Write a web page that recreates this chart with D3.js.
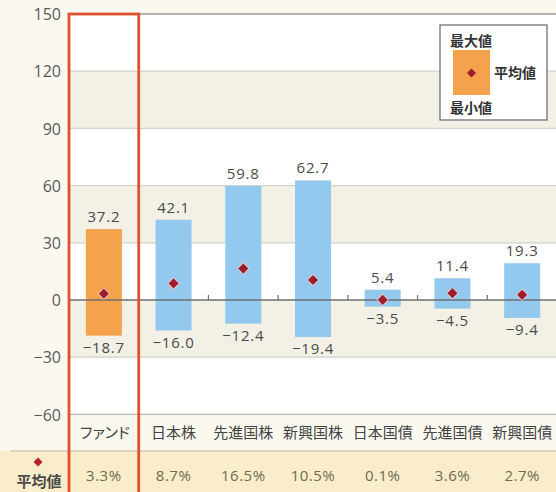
<!DOCTYPE html>
<html><head><meta charset="utf-8">
<script src="https://cdn.jsdelivr.net/npm/d3@7"></script>
<style>
html,body{margin:0;padding:0;background:#fbf8f0;}
svg{display:block;}
text{font-family:"Open Sans","Noto Sans CJK JP",sans-serif;}
.jp{font-family:"Noto Sans CJK JP",sans-serif;}
</style></head>
<body>
<svg id="c" width="556" height="492"></svg>
<script>
const categories = ["ファンド","日本株","先進国株","新興国株","日本国債","先進国債","新興国債"];
const maxValues = [37.2, 42.1, 59.8, 62.7, 5.4, 11.4, 19.3];
const minValues = [-18.7, -16.0, -12.4, -19.4, -3.5, -4.5, -9.4];
const meanValues = [3.3, 8.7, 16.5, 10.5, 0.1, 3.6, 2.7];
const meanLabels = ["3.3%","8.7%","16.5%","10.5%","0.1%","3.6%","2.7%"];
const yTicks = [-60,-30,0,30,60,90,120,150];
const legendLabels = {max:"最大値", mean:"平均値", min:"最小値"};

const svg = d3.select("#c");
const W = 556, H = 492;
const x = d3.scaleBand().domain(categories).range([69, 557]).padding(0);
const y = d3.scaleLinear().domain([-60,150]).range([414.4, 14]);
const barW = 36;
const cx = c => x(c) + x.bandwidth()/2;
const fmt = v => v < 0 ? "\u2212" + Math.abs(v).toFixed(1) : v.toFixed(1);

// background bands
const bands = d3.pairs(yTicks);
svg.append("g").selectAll("rect").data(bands).join("rect")
  .attr("x", 69).attr("width", W-69)
  .attr("y", d => y(d[1])).attr("height", d => y(d[0]) - y(d[1]))
  .attr("fill", (d,i) => i % 2 === 0 ? "#ffffff" : "#f3f1e5");

// gridlines
svg.append("g").selectAll("line").data(yTicks.filter(t => t !== 0)).join("line")
  .attr("x1", 69).attr("x2", W)
  .attr("y1", d => y(d)).attr("y2", d => y(d))
  .attr("stroke", d => d === 150 ? "#9a9a9a" : (d === -60 ? "#b5b5b5" : "#d2d2cc"))
  .attr("stroke-width", d => d === 150 ? 1.6 : 1.2);

// y axis labels
const yAxis = d3.axisLeft(y).tickValues(yTicks).tickSize(0).tickPadding(0)
  .tickFormat(d => d < 0 ? "\u2212" + Math.abs(d) : d);
const ya = svg.append("g").attr("transform","translate(61,0)").call(yAxis);
ya.select(".domain").remove();
ya.selectAll("text").attr("font-size", 16).attr("fill", "#5a5a5a")
  .attr("font-family", "'Open Sans',sans-serif").attr("dy", "0.35em");

// bars
svg.append("g").selectAll("rect").data(categories).join("rect")
  .attr("x", d => cx(d) - barW/2).attr("width", barW)
  .attr("y", (d,i) => y(maxValues[i]))
  .attr("height", (d,i) => y(minValues[i]) - y(maxValues[i]))
  .attr("fill", (d,i) => i === 0 ? "#f5a24c" : "#93c9ee");

// zero line
svg.append("line").attr("x1", 69).attr("x2", W).attr("y1", y(0)).attr("y2", y(0))
  .attr("stroke", "#6e6e6e").attr("stroke-width", 1.5);
// small ticks at category boundaries
svg.append("g").selectAll("line").data(categories.slice(1)).join("line")
  .attr("x1", d => x(d)).attr("x2", d => x(d))
  .attr("y1", y(0)).attr("y2", y(0) - 5)
  .attr("stroke", "#6e6e6e").attr("stroke-width", 1.2);

// max labels
svg.append("g").selectAll("text").data(categories).join("text")
  .attr("x", d => cx(d)).attr("y", (d,i) => y(maxValues[i]) - 7)
  .attr("text-anchor","middle").attr("font-size", 15).attr("letter-spacing", 0.8)
  .attr("fill", "#4a4a4a").text((d,i) => fmt(maxValues[i]));
// min labels
svg.append("g").selectAll("text").data(categories).join("text")
  .attr("x", d => cx(d)).attr("y", (d,i) => y(minValues[i]) + 17)
  .attr("text-anchor","middle").attr("font-size", 15).attr("letter-spacing", 0.8)
  .attr("fill", "#4a4a4a").text((d,i) => fmt(minValues[i]));

// mean diamonds
svg.append("g").selectAll("path").data(categories).join("path")
  .attr("transform", (d,i) => `translate(${cx(d)},${y(meanValues[i])}) rotate(45)`)
  .attr("d", d3.symbol().type(d3.symbolSquare).size(52)())
  .attr("fill", "#9c1c30").attr("stroke", "#f6d2c8").attr("stroke-width", 1.6)
  .attr("paint-order","stroke");

// category labels
svg.append("g").selectAll("text").data(categories).join("text")
  .attr("class","jp")
  .attr("x", d => cx(d)).attr("y", 438)
  .attr("text-anchor","middle").attr("font-size", 15)
  .attr("letter-spacing", d => d === "ファンド" ? -2.5 : 0)
  .attr("fill", "#444").text(d => d);

// bottom mean row
svg.append("rect").attr("x", 0).attr("y", 451).attr("width", W).attr("height", H-451)
  .attr("fill", "#f9edcb");
svg.append("line").attr("x1", 10).attr("x2", W).attr("y1", 451).attr("y2", 451)
  .attr("stroke", "#b9b3a0").attr("stroke-width", 1.2);
svg.append("path").attr("transform", `translate(38,462) rotate(45)`)
  .attr("d", d3.symbol().type(d3.symbolSquare).size(40)())
  .attr("fill", "#b8202e");
svg.append("text").attr("class","jp").attr("x", 39).attr("y", 487)
  .attr("text-anchor","middle").attr("font-size", 15).attr("font-weight", 700)
  .attr("fill", "#4a4a4a").text(legendLabels.mean);
svg.append("g").selectAll("text").data(categories).join("text")
  .attr("x", d => cx(d)).attr("y", 481)
  .attr("text-anchor","middle").attr("font-size", 15).attr("letter-spacing", 0.5)
  .attr("fill", "#6f6a50").text((d,i) => meanLabels[i]);

// highlight box around fund column
svg.append("rect").attr("x", x(categories[0])).attr("y", y(150))
  .attr("width", x.bandwidth()).attr("height", H - y(150) + 5)
  .attr("fill", "none").attr("stroke", "#e0502c").attr("stroke-width", 2.8);

// legend
const lg = svg.append("g");
lg.append("rect").attr("x", 440).attr("y", 25).attr("width", 107).attr("height", 95)
  .attr("fill", "#fff").attr("stroke", "#666").attr("stroke-width", 1.2);
lg.append("rect").attr("x", 453).attr("y", 50).attr("width", 37).attr("height", 45)
  .attr("fill", "#f5a24c");
lg.append("path").attr("transform", `translate(471.5,73) rotate(45)`)
  .attr("d", d3.symbol().type(d3.symbolSquare).size(40)())
  .attr("fill", "#9c1c30");
lg.append("text").attr("class","jp").attr("x", 450).attr("y", 46).attr("font-size", 14)
  .attr("font-weight", 700).attr("fill", "#333").text(legendLabels.max);
lg.append("text").attr("class","jp").attr("x", 494).attr("y", 78).attr("font-size", 14)
  .attr("font-weight", 700).attr("fill", "#333").text(legendLabels.mean);
lg.append("text").attr("class","jp").attr("x", 450).attr("y", 113).attr("font-size", 14)
  .attr("font-weight", 700).attr("fill", "#333").text(legendLabels.min);
</script>
</body></html>
